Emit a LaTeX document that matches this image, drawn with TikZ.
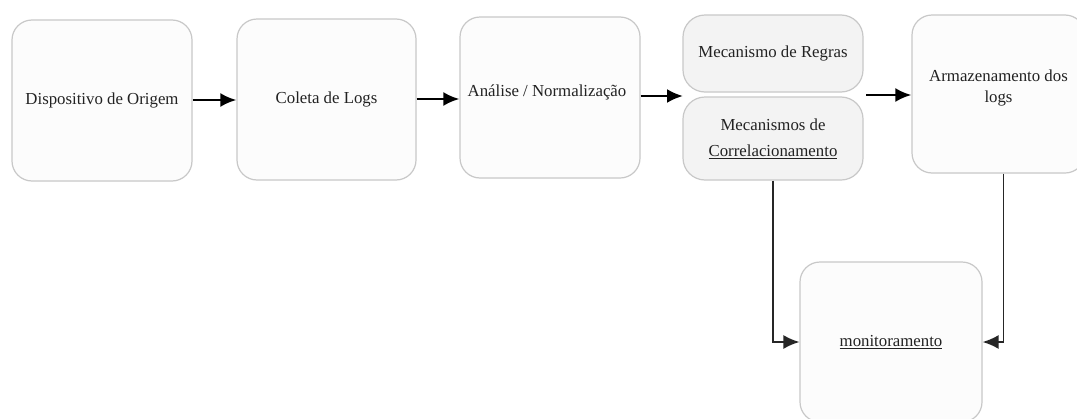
\documentclass[tikz,border=0pt]{standalone}
\usepackage{fontspec}
\setmainfont{Liberation Serif}
\usetikzlibrary{arrows.meta}
\definecolor{bordc}{HTML}{C8C8C8}
\definecolor{txtc}{HTML}{222222}
\definecolor{lightf}{HTML}{FCFCFC}
\definecolor{grayf}{HTML}{F3F3F3}
\tikzset{
  box/.style={draw=bordc, line width=1.2pt, fill=lightf, rounded corners=20pt,
    text=txtc, align=center, font=\fontsize{16.8}{20}\selectfont, inner sep=0pt},
  gbox/.style={box, fill=grayf, rounded corners=22pt},
  arr/.style={line width=2.5pt, draw=black, -{Latex[length=16pt,width=14pt]}},
  varr/.style={line width=1.8pt, draw=black!85, -{Latex[length=16pt,width=14pt]}}
}
\begin{document}
\begin{tikzpicture}[x=1pt,y=-1pt]
\useasboundingbox (0,0) rectangle (1077,418);
\fill[white] (0,0) rectangle (1077,418);
\clip (0,0) rectangle (1077,418);
\node[box, minimum width=180, minimum height=161] (b1) at (102,100.5) {Dispositivo de Origem};
\node[box, minimum width=179, minimum height=161] (b2) at (326.5,99.5) {Coleta de Logs};
\node[box, minimum width=180, minimum height=161] (b3) at (550,97.5) {};
\node[text=txtc, font=\fontsize{16.8}{20}\selectfont] (t3) at (547,92) {Análise / Normalização};
\node[gbox, minimum width=180, minimum height=77] (b4) at (773,53.5) {Mecanismo de Regras};
\node[gbox, minimum width=180, minimum height=83] (b5) at (773,138.5) {Mecanismos de\\[6pt]\underline{Correlacionamento}};
\node[box, minimum width=173, minimum height=158, label={[align=center, text=txtc, font=\fontsize{16.8}{20}\selectfont, yshift=6pt]center:Armazenamento dos\\[1pt]logs}] (b6) at (998.5,94) {};
\node[box, minimum width=182, minimum height=160] (b7) at (891,342) {\underline{monitoramento}};
\coordinate (mid) at (683,96);
\coordinate (midr) at (866,95);
\draw[arr] (b1.east |- 0,100) -- (b2.west |- 0,100);
\draw[arr] (b2.east |- 0,99) -- (b3.west |- 0,99);
\draw[arr] (b3.east |- mid) -- (mid);
\draw[arr] (midr) -- (b6.west |- midr);
\draw[varr] (b5.south) |- (b7.west);
\draw[varr] ([xshift=5pt]b6.south) |- (b7.east);
\end{tikzpicture}
\end{document}
